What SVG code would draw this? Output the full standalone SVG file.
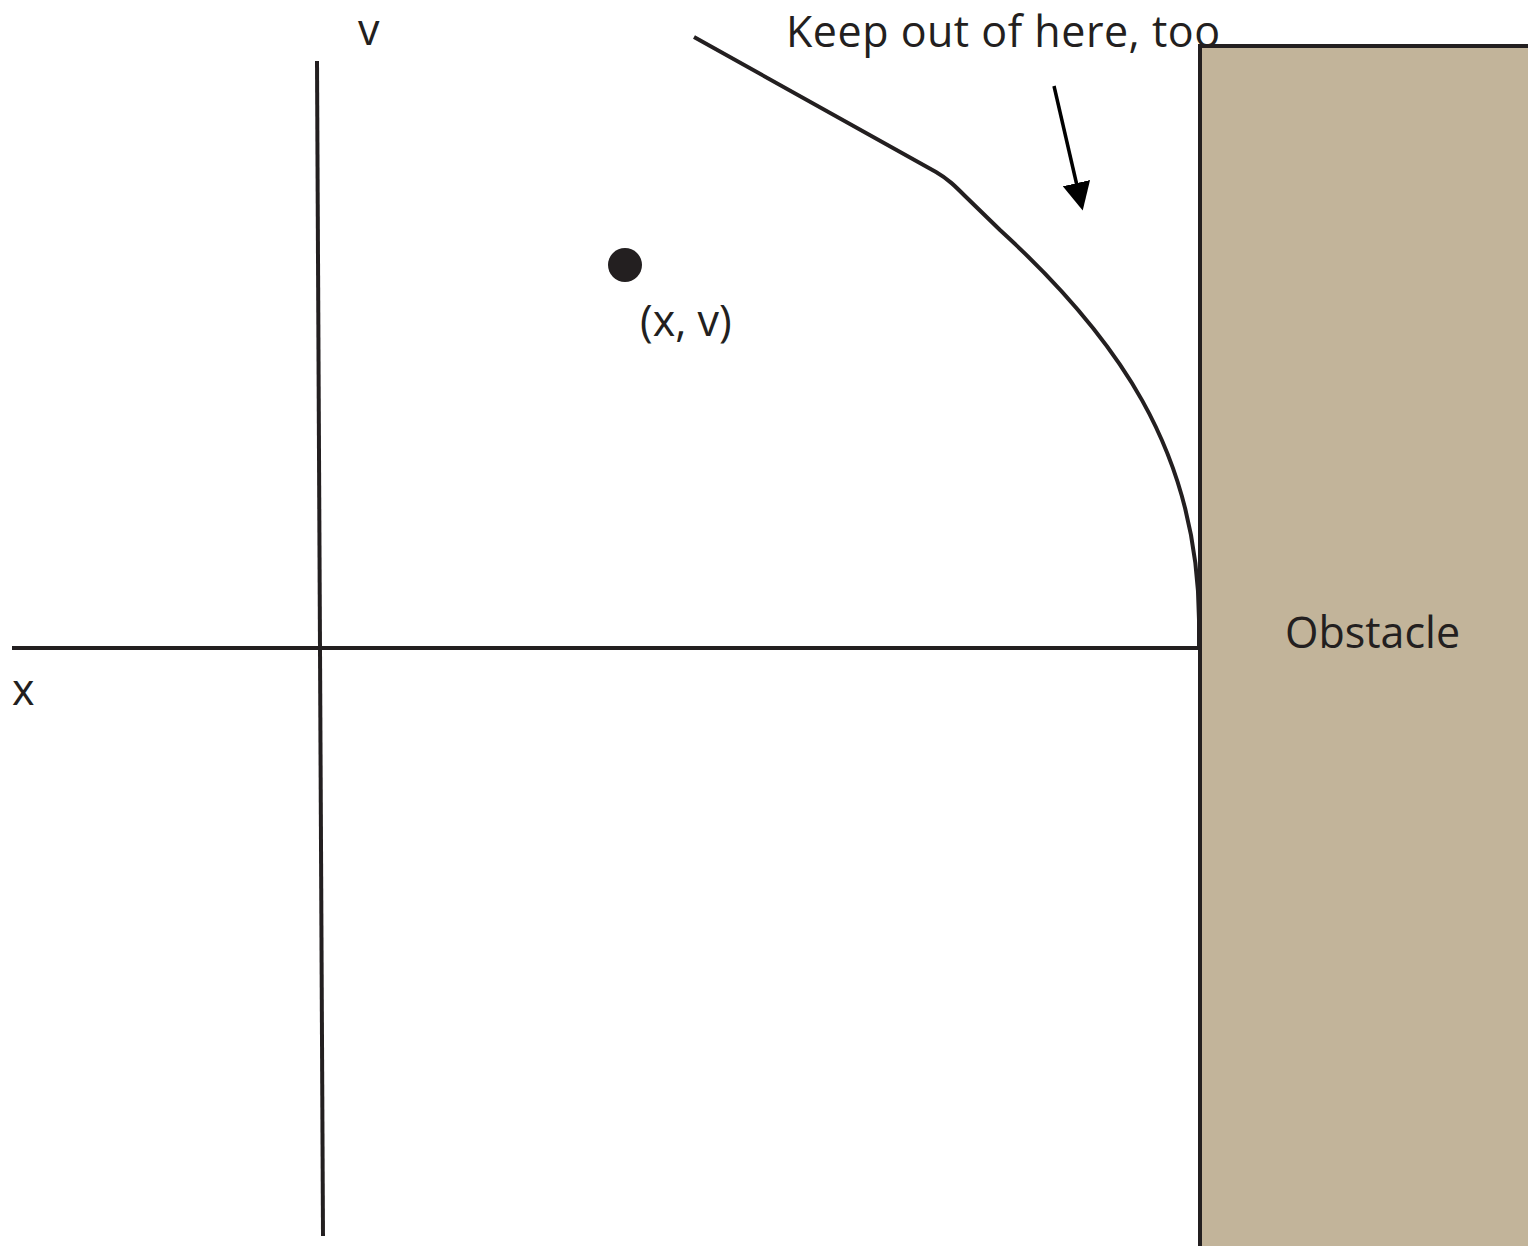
<svg xmlns="http://www.w3.org/2000/svg" width="1528" height="1246" viewBox="0 0 1528 1246">
<style>
.ln{stroke:#231f20;stroke-width:4;fill:none}
.t{font-family:"Open Sans","Liberation Sans",sans-serif;font-size:43px;fill:#231f20}
</style>
<defs>
<marker id="ah" markerWidth="8" markerHeight="8" refX="2" refY="4" orient="auto" markerUnits="strokeWidth">
<path d="M0,0 L8,4 L0,8 Z" fill="#000"/>
</marker>
</defs>
<rect width="1528" height="1246" fill="#fff"/>
<g id="obstacle">
<rect x="1200" y="46" width="330" height="1202" fill="#c2b49a"/>
<path class="ln" d="M1200,1246 L1200,46 L1528,46"/>
<text class="t" x="1285" y="648">Obstacle</text>
</g>
<g id="axes">
<line class="ln" x1="12" y1="648" x2="1200" y2="648"/>
<line class="ln" x1="317" y1="61" x2="323" y2="1236"/>
<text class="t" x="12" y="705">x</text>
<text class="t" x="358" y="45">v</text>
</g>
<g id="boundary">
<path class="ln" d="M694,37 L936,172 C948,179 955,186 965,196 L1000,230 C1115,335 1198,450 1199,620 L1199,648"/>
</g>
<g id="state">
<circle cx="625" cy="265" r="17" fill="#231f20"/>
<text class="t" x="640" y="336">(x, v)</text>
</g>
<g id="connectors">
<line x1="1054" y1="86" x2="1078" y2="190" stroke="#000" stroke-width="3.5" marker-end="url(#ah)"/>
</g>
<text class="t" x="786" y="47" textLength="434">Keep out of here, too</text>
</svg>
